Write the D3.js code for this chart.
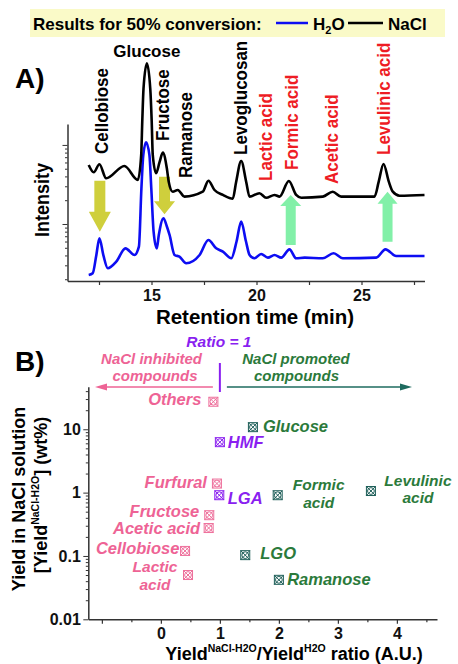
<!DOCTYPE html>
<html><head><meta charset="utf-8">
<script src="https://cdn.jsdelivr.net/npm/d3@7"></script>
<style>
body{margin:0;background:#fff}
svg{display:block}
text{font-family:"Liberation Sans",Arial,Helvetica,sans-serif;font-weight:bold}
</style>
</head><body>
<svg id="c" width="458" height="664"></svg>
<script>
// ===================== DATA =====================
// Panel A: chromatograms (retention time in min, intensity in a.u., log axis)
const timeNaCl = [12.01,12.25,12.52,12.84,13.71,14.35,14.51,14.56,14.62,14.78,14.94,15.01,15.06,15.22,15.38,15.54,15.73,15.82,16.01,16.25,16.57,17.44,17.71,18.00,18.40,18.87,19.03,19.27,19.51,19.67,20.14,20.46,20.86,21.10,21.54,21.89,22.13,23.16,23.63,24.03,25.62,25.82,26.05,26.30,26.49,26.81,28.0];
const intNaCl  = [5.58,4.51,5.70,3.79,5.42,3.61,7.47,19.7,52,108,52,19.7,7.47,4.38,6.0,8.0,5.07,3.43,2.56,2.69,2.22,2.56,3.53,2.69,2.33,2.09,3.4,6.27,3.4,2.22,2.45,2.15,2.33,2.22,3.50,2.33,2.15,2.22,2.56,2.22,2.22,3.43,5.75,3.43,2.56,2.28,2.33];
const timeH2O  = [12.01,12.20,12.37,12.52,12.71,12.92,13.32,13.76,14.19,14.40,14.52,14.61,14.74,14.90,14.99,15.10,15.25,15.35,15.57,15.72,15.86,16.10,16.33,16.65,17.29,17.71,18.08,18.40,18.80,19.05,19.27,19.50,19.67,19.90,20.22,20.54,20.86,21.18,21.57,21.89,22.29,23.16,23.67,24.11,25.70,26.14,26.65,28.0];
const intH2O   = [0.226,0.238,0.40,0.659,0.40,0.275,0.333,0.492,0.405,0.516,2.83,7.47,10.8,7.47,2.83,0.80,0.492,0.73,1.18,0.95,0.726,0.405,0.386,0.318,0.405,0.627,0.492,0.446,0.368,0.60,1.07,0.60,0.405,0.368,0.417,0.375,0.405,0.375,0.478,0.368,0.375,0.368,0.426,0.368,0.375,0.478,0.394,0.394];
const peakNames = ["Cellobiose","Glucose","Fructose","Ramanose","Levoglucosan","Lactic acid","Formic acid","Acetic acid","Levulinic acid"];
const peakTimes = [12.52,14.78,15.54,16.6,19.27,20.4,21.54,23.63,26.05];
const peakIsAcid = [false,false,false,false,false,true,true,true,true];
const xTickLabelsA = [15,20,25];
const xTickMinorA = [12.5,17.5,22.5,27.5];
// change arrows (time, intensity from -> to)
const arrowTimes = [12.54,15.62,21.63,26.24];
const arrowFrom  = [3.53,3.97,0.542,0.597];
const arrowTo    = [0.80,1.33,2.33,2.56];

// Panel B: yield in NaCl vs ratio
const compounds = ["Others","Glucose","HMF","Furfural","LGA","Formic acid","Levulinic acid","Fructose","Acetic acid","Cellobiose","LGO","Lactic acid","Ramanose"];
const ratio     = [0.89,1.56,1.00,0.95,0.99,1.98,3.56,0.82,0.81,0.41,1.43,0.46,2.00];
const yieldNaCl = [27.2,10.8,6.26,1.39,0.91,0.91,1.06,0.44,0.276,0.12,0.103,0.050,0.042];
const effect    = ["inhibited","promoted","neutral","inhibited","neutral","promoted","promoted","inhibited","inhibited","inhibited","promoted","inhibited","promoted"];
const xTickLabelsB = [0,1,2,3,4];
const yTickLabelsB = [0.01,0.1,1,10];

// ===================== LAYOUT / STYLE =====================
const svg = d3.select("#c");
const RED = "#ee1c24", BLUE = "#0d0df2";
const txtCol = {inhibited:"#ee6395", promoted:"#2b7a3b", neutral:"#8a1ff0"};
const mkCol  = {inhibited:"#ee6f9b", promoted:"#1d5e58", neutral:"#8a1ff0"};

// Legend box
svg.append("rect").attr("x",30).attr("y",9).attr("width",415).attr("height",28).attr("fill","#fafac8");
svg.append("text").attr("x",33).attr("y",29.5).attr("font-size",17).text("Results for 50% conversion:");
svg.append("line").attr("x1",276).attr("x2",308).attr("y1",23).attr("y2",23).attr("stroke",BLUE).attr("stroke-width",2.5);
const h2o = svg.append("text").attr("x",313).attr("y",29.5).attr("font-size",17);
h2o.append("tspan").text("H");
h2o.append("tspan").attr("font-size",11).attr("dy",4).text("2");
h2o.append("tspan").attr("dy",-4).text("O");
svg.append("line").attr("x1",348).attr("x2",383).attr("y1",23).attr("y2",23).attr("stroke","#000").attr("stroke-width",2.5);
svg.append("text").attr("x",388).attr("y",29.5).attr("font-size",17).text("NaCl");

// ---------- Panel A ----------
svg.append("text").attr("x",15).attr("y",88).attr("font-size",28).text("A)");
const xA = d3.scaleLinear().domain([11,28]).range([67.5,424.5]);
const yA = d3.scaleLog().domain([0.19,18.4]).range([281,124]);

const axA = svg.append("g").attr("transform","translate(0,281)")
  .call(d3.axisBottom(xA).tickValues(xTickMinorA.concat(xTickLabelsA).sort((a,b)=>a-b))
    .tickSize(4).tickSizeOuter(0).tickPadding(5)
    .tickFormat(d => xTickLabelsA.includes(d) ? d : ""));
axA.selectAll("text").attr("font-size",16).attr("fill","#111");
axA.select(".domain").attr("stroke","#333").attr("stroke-width",1.5);
axA.selectAll(".tick line").attr("stroke","#333").attr("stroke-width",1.2);

const ayA = svg.append("g").attr("transform","translate(67.5,0)")
  .call(d3.axisLeft(yA).tickValues(yA.ticks()).tickSize(5).tickSizeOuter(0).tickFormat(""));
ayA.select(".domain").attr("stroke","#333").attr("stroke-width",1.5);
ayA.selectAll(".tick line").attr("stroke","#333").attr("stroke-width",1)
  .attr("x2", d => Math.abs(Math.log10(d) - Math.round(Math.log10(d))) < 1e-6 ? -5 : -2.5);

svg.append("text").attr("transform","translate(48.5,200) rotate(-90) scale(1,1.1)")
  .attr("text-anchor","middle").attr("font-size",18).text("Intensity");
svg.append("text").attr("x",255).attr("y",324).attr("text-anchor","middle")
  .attr("font-size",20.5).text("Retention time (min)");

// arrows (drawn under traces)
function vArrow(x, yTail, yTip, shaftW, headW, headL){
  const dir = Math.sign(yTip - yTail), yb = yTip - dir*headL;
  return d3.line()([[x-shaftW/2,yTail],[x-shaftW/2,yb],[x-headW/2,yb],[x,yTip],
                    [x+headW/2,yb],[x+shaftW/2,yb],[x+shaftW/2,yTail]]) + "Z";
}
const arrowStyle = [
  {fill:"#cfcf3c", sw:11, hw:22, hl:20},
  {fill:"#cfcf3c", sw:11, hw:21, hl:13},
  {fill:"#82f0a8", sw:10, hw:21, hl:11},
  {fill:"#82f0a8", sw:10, hw:20, hl:12}
];
arrowTimes.forEach((t,i) => {
  const s = arrowStyle[i];
  svg.append("path").attr("d", vArrow(xA(t), yA(arrowFrom[i]), yA(arrowTo[i]), s.sw, s.hw, s.hl))
    .attr("fill", s.fill);
});

const lineA = d3.line().x(d => xA(d[0])).y(d => yA(d[1])).curve(d3.curveMonotoneX);
svg.append("path").attr("d", lineA(d3.zip(timeH2O, intH2O)))
  .attr("fill","none").attr("stroke",BLUE).attr("stroke-width",2.6).attr("stroke-linejoin","round");
svg.append("path").attr("d", lineA(d3.zip(timeNaCl, intNaCl)))
  .attr("fill","none").attr("stroke","#000").attr("stroke-width",2.6).attr("stroke-linejoin","round");

// peak labels
const labelBottom = [154,57,141,178,155,181,170,184,155];
const labelDx     = [8.5,0,5.7,7,6,6.6,9,5.3,6.4];
peakNames.forEach((n,i) => {
  const t = svg.append("text").attr("font-size",17).attr("fill", peakIsAcid[i] ? RED : "#000").text(n);
  if (n === "Glucose") {
    t.attr("x", xA(peakTimes[i])).attr("y", labelBottom[i]).attr("text-anchor","middle");
  } else {
    t.attr("transform", `translate(${xA(peakTimes[i]) + labelDx[i]},${labelBottom[i]}) rotate(-90) scale(1,1.1)`);
  }
});

// ---------- Panel B ----------
svg.append("text").attr("x",15).attr("y",371).attr("font-size",28).text("B)");
const xB = d3.scaleLinear().domain([-1.23,4.68]).range([88.3,437]);
const yB = d3.scaleLog().domain([0.01,47]).range([619.3,386.7]);

const xBticks = d3.range(-1, 4.51, 0.5);
const axB = svg.append("g").attr("transform","translate(0,619.3)")
  .call(d3.axisBottom(xB).tickValues(xBticks).tickSize(4).tickSizeOuter(0).tickPadding(4)
    .tickFormat(d => xTickLabelsB.includes(d) ? d : ""));
axB.selectAll("text").attr("font-size",16).attr("fill","#111");
axB.select(".domain").attr("stroke","#333").attr("stroke-width",1.5);
axB.selectAll(".tick line").attr("stroke","#333").attr("stroke-width",1.2)
  .attr("y2", d => Number.isInteger(d) ? 4.5 : 3);

const ayB = svg.append("g").attr("transform","translate(88.3,0)")
  .call(d3.axisLeft(yB).tickValues(yB.ticks()).tickSize(5).tickSizeOuter(0).tickPadding(2.5)
    .tickFormat(d => yTickLabelsB.some(v => Math.abs(v-d) < 1e-9) ? d3.format("~g")(d) : ""));
ayB.selectAll("text").attr("font-size",16).attr("fill","#111");
ayB.select(".domain").attr("stroke","#333").attr("stroke-width",1.5);
ayB.selectAll(".tick line").attr("stroke","#333").attr("stroke-width",1)
  .attr("x2", d => Math.abs(Math.log10(d) - Math.round(Math.log10(d))) < 1e-6 ? -5 : -2.5);

// axis titles B
svg.append("text").attr("transform","translate(25,499) rotate(-90)")
  .attr("text-anchor","middle").attr("font-size",18).text("Yield in NaCl solution");
const yt2 = svg.append("text").attr("transform","translate(47,495) rotate(-90)")
  .attr("text-anchor","middle").attr("font-size",18);
yt2.append("tspan").text("[Yield");
yt2.append("tspan").attr("font-size",10.5).attr("dy",-8).text("NaCl-H2O");
yt2.append("tspan").attr("dy",8).text("] (wt%)");

const xt = svg.append("text").attr("x",294).attr("y",660).attr("text-anchor","middle").attr("font-size",18);
xt.append("tspan").text("Yield");
xt.append("tspan").attr("font-size",10.5).attr("dy",-8).text("NaCl-H2O");
xt.append("tspan").attr("dy",8).text("/Yield");
xt.append("tspan").attr("font-size",10.5).attr("dy",-8).text("H2O");
xt.append("tspan").attr("dy",8).text(" ratio (A.U.)");

// ratio = 1 annotation
const x1 = xB(1);
svg.append("text").attr("x",x1-1).attr("y",346.5).attr("text-anchor","middle")
  .attr("font-size",15.5).attr("font-style","italic").attr("fill",txtCol.neutral).text("Ratio = 1");
svg.append("line").attr("x1",x1).attr("x2",x1).attr("y1",363).attr("y2",392)
  .attr("stroke",txtCol.neutral).attr("stroke-width",2);
[["NaCl inhibited",151.5,363.5],["compounds",155,380.5]].forEach(d =>
  svg.append("text").attr("x",d[1]).attr("y",d[2]).attr("text-anchor","middle").attr("font-size",15)
    .attr("font-style","italic").attr("fill",txtCol.inhibited).text(d[0]));
[["NaCl promoted",296,363.5],["compounds",296.5,380.5]].forEach(d =>
  svg.append("text").attr("x",d[1]).attr("y",d[2]).attr("text-anchor","middle").attr("font-size",15)
    .attr("font-style","italic").attr("fill",txtCol.promoted).text(d[0]));
// direction arrows
svg.append("line").attr("x1",x1-7).attr("x2",104).attr("y1",387).attr("y2",387).attr("stroke",txtCol.inhibited).attr("stroke-width",1.6);
svg.append("path").attr("d",d3.line()([[95,387],[107,383.5],[107,390.5]])+"Z").attr("fill",txtCol.inhibited);
svg.append("line").attr("x1",x1+7).attr("x2",403).attr("y1",387).attr("y2",387).attr("stroke","#1e6b5f").attr("stroke-width",1.6);
svg.append("path").attr("d",d3.line()([[412,387],[400,383.5],[400,390.5]])+"Z").attr("fill","#1e6b5f");

// markers
const mk = svg.append("g").selectAll("g").data(compounds).join("g")
  .attr("transform",(d,i) => `translate(${xB(ratio[i])},${yB(yieldNaCl[i])})`)
  .attr("stroke",(d,i) => mkCol[effect[i]]).attr("fill","none").attr("stroke-width",1);
mk.append("rect").attr("x",-4.5).attr("y",-4.5).attr("width",9).attr("height",9);
mk.append("circle").attr("r",3.4);
mk.append("line").attr("x1",-4.5).attr("y1",-4.5).attr("x2",4.5).attr("y2",4.5);
mk.append("line").attr("x1",-4.5).attr("y1",4.5).attr("x2",4.5).attr("y2",-4.5);

// point labels: anchor, dx, font size, [text, dy] per line
const labelLayout = {
  "Others":        {a:"end",   dx:-12,  fs:16.5, lines:[["Others",3.5]]},
  "Glucose":       {a:"start", dx:10,   fs:16.5, lines:[["Glucose",4.7]]},
  "HMF":           {a:"start", dx:8,    fs:16.5, lines:[["HMF",6]]},
  "Furfural":      {a:"end",   dx:-10,  fs:16.5, lines:[["Furfural",4]]},
  "LGA":           {a:"start", dx:8.5,  fs:16.5, lines:[["LGA",8.3]]},
  "Formic acid":   {a:"middle",dx:41,   fs:15.5, lines:[["Formic",-5],["acid",12.5]]},
  "Levulinic acid":{a:"middle",dx:47,   fs:15.5, lines:[["Levulinic",-5.5],["acid",12]]},
  "Fructose":      {a:"end",   dx:-10,  fs:16.5, lines:[["Fructose",1.8]]},
  "Acetic acid":   {a:"end",   dx:-8.5, fs:16.5, lines:[["Acetic acid",5.8]]},
  "Cellobiose":    {a:"end",   dx:-5.7, fs:16.5, lines:[["Cellobiose",3]]},
  "LGO":           {a:"start", dx:15,   fs:16.5, lines:[["LGO",4.3]]},
  "Lactic acid":   {a:"middle",dx:-33,  fs:15.5, lines:[["Lactic",-3],["acid",14.5]]},
  "Ramanose":      {a:"start", dx:8.3,  fs:16.5, lines:[["Ramanose",5]]}
};
compounds.forEach((c,i) => {
  const L = labelLayout[c], px = xB(ratio[i]), py = yB(yieldNaCl[i]);
  L.lines.forEach(([s,dy]) => {
    svg.append("text").attr("x",px+L.dx).attr("y",py+dy).attr("text-anchor",L.a)
      .attr("font-size",L.fs).attr("font-style","italic").attr("fill",txtCol[effect[i]]).text(s);
  });
});
</script>
</body></html>
